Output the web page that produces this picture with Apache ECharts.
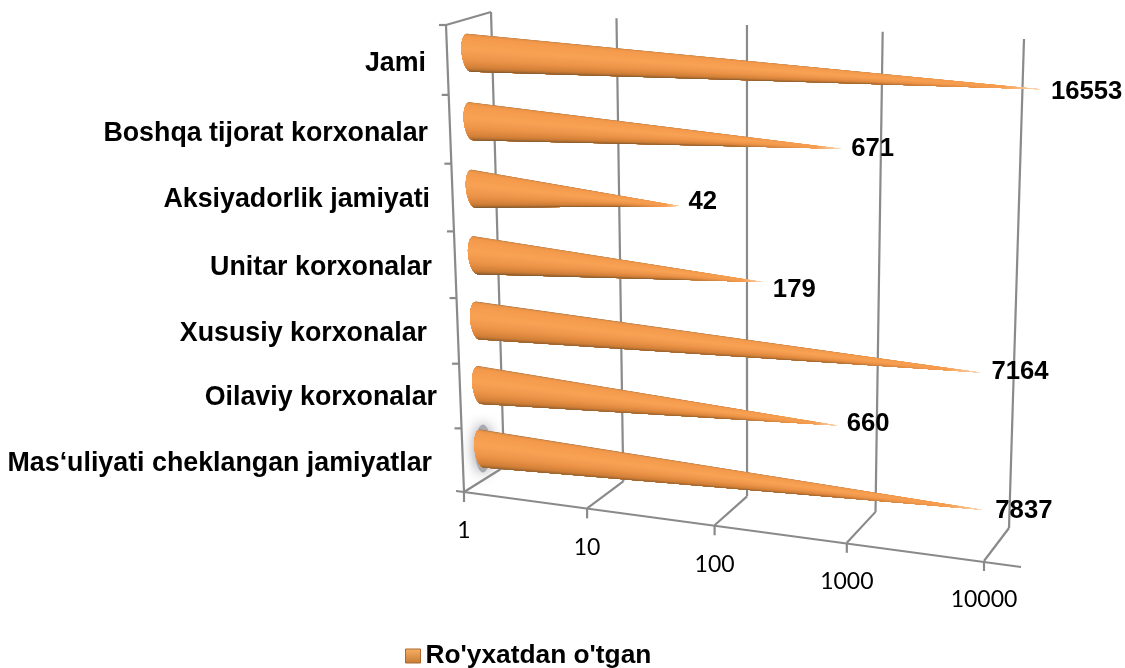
<!DOCTYPE html>
<html>
<head>
<meta charset="utf-8">
<script src="https://cdn.jsdelivr.net/npm/echarts@6/dist/echarts.min.js"></script>
<style>
  html, body { margin: 0; padding: 0; background: #fff; }
  #chart { width: 1125px; height: 668px; }
</style>
</head>
<body>
<div id="chart"></div>
<script>
// bottom to top, same order as the value axis of the original
const categories = [
  "Mas\u2018uliyati cheklangan jamiyatlar",
  "Oilaviy korxonalar",
  "Xususiy korxonalar",
  "Unitar korxonalar",
  "Aksiyadorlik jamiyati",
  "Boshqa tijorat korxonalar",
  "Jami"
];
const registered = [7837, 660, 7164, 179, 42, 671, 16553];
const tickValues = [1, 10, 100, 1000, 10000];
const seriesName = "Ro'yxatdan o'tgan";

// label nudges, the original labels were not placed evenly
const catLabelRight = [432, 437, 427, 432, 430, 428, 426];
const catLabelDy = [15, 13, 13, 12, 11, 12, 11];
const valueLabelNudge = [[13, 1], [9, -2], [11, -1], [10, 8], [9, -4], [10, 0], [10, 3]];

// square -> quad perspective map
function makeQuad(p0, p1, p2, p3) {
  const dx1 = p1[0] - p2[0], dx2 = p3[0] - p2[0], sx = p0[0] - p1[0] + p2[0] - p3[0];
  const dy1 = p1[1] - p2[1], dy2 = p3[1] - p2[1], sy = p0[1] - p1[1] + p2[1] - p3[1];
  const den = dx1 * dy2 - dx2 * dy1;
  const g = (sx * dy2 - dx2 * sy) / den;
  const h = (dx1 * sy - sx * dy1) / den;
  const a = p1[0] - p0[0] + g * p1[0], b = p3[0] - p0[0] + h * p3[0];
  const d = p1[1] - p0[1] + g * p1[1], e = p3[1] - p0[1] + h * p3[1];
  return function (u, v) {
    const w = g * u + h * v + 1;
    return [(a * u + b * v + p0[0]) / w, (d * u + e * v + p0[1]) / w];
  };
}

const frontPlane = makeQuad([464, 492], [984, 561], [996, 61], [446, 25]);
const midPlane = makeQuad([483, 480], [996, 545], [1010, 50], [468, 18]);
const backPlane = makeQuad([504, 467], [1009, 528], [1024, 39], [491, 12]);

const lineStyle = { stroke: "#8a8a8a", lineWidth: 2.2, fill: null };

function gridFractions(params, api, value, cat) {
  const cs = params.coordSys;
  const p = api.coord([value, cat]);
  return [(p[0] - cs.x) / cs.width, (cs.y + cs.height - p[1]) / cs.height];
}

function seg(a, b, z) {
  return { type: "line", shape: { x1: a[0], y1: a[1], x2: b[0], y2: b[1] }, style: lineStyle, z2: z || 1 };
}

function renderFrame(params, api) {
  const u = gridFractions(params, api, api.value(0), 0)[0];
  const children = [];
  const front = frontPlane(u, 0);
  const back = backPlane(u, 0);
  const top = backPlane(u, 1);
  children.push(seg(back, top));
  children.push(seg(front, back));
  children.push(seg(front, [front[0], front[1] + 10]));
  children.push({
    type: "text",
    style: {
      x: front[0], y: front[1] + 39,
      text: String(api.value(0)),
      font: "23px Lato", fill: "#000",
      align: "center", verticalAlign: "middle"
    }
  });
  if (params.dataIndex === 0) {
    // walls and floor edge
    const fTop = frontPlane(0, 1);
    children.push(seg(front, fTop));
    children.push(seg(fTop, top));
    children.push(seg(front, [1021, 567]));
    children.push(seg(front, [front[0] - 8, front[1] - 1]));
    for (let i = 1; i <= categories.length; i++) {
      const t = frontPlane(0, i / categories.length);
      children.push(seg(t, [t[0] - 7, t[1]]));
    }
  }
  return { type: "group", children: children };
}

const shadeStops = [
  [0, "#7d5a38"], [0.05, "#d98a44"], [0.16, "#f2984a"], [0.42, "#f9a254"],
  [0.62, "#ec9347"], [0.8, "#cf7d35"], [0.93, "#95622f"], [1, "#5f4a33"]
];

function shade(t) {
  for (let i = 1; i < shadeStops.length; i++) {
    if (t <= shadeStops[i][0]) {
      const k = (t - shadeStops[i - 1][0]) / (shadeStops[i][0] - shadeStops[i - 1][0]);
      return echarts.color.lerp(k, [shadeStops[i - 1][1], shadeStops[i][1]]);
    }
  }
  return shadeStops[shadeStops.length - 1][1];
}

function renderCone(params, api) {
  const i = params.dataIndex;
  const value = api.value(0);
  const cat = api.value(1);
  const tipF = gridFractions(params, api, value, cat);
  const tip = midPlane(tipF[0], tipF[1]);
  const base = midPlane(0, tipF[1]);
  const children = [];
  const rx = 7.5, ry = 19;

  if (i === 0) {
    // smudge behind the first base
    children.push({
      type: "ellipse",
      shape: { cx: base[0] + 1, cy: base[1], rx: 8, ry: 24 },
      style: { fill: "#a9a9b0", shadowBlur: 14, shadowColor: "#8e8e98" },
      z2: 1
    });
  }

  // each piece runs from its angle down to the bottom edge, so no seams show
  const n = 36;
  const rim = [];
  for (let k = 0; k <= n; k++) {
    const a = -Math.PI / 2 + Math.PI * k / n;
    rim.push([base[0] - rx * Math.cos(a) + 0.1 * ry * Math.sin(a), base[1] + ry * Math.sin(a)]);
  }
  for (let k = 0; k < n; k++) {
    const c = shade((k + 0.5) / n);
    children.push({
      type: "polygon",
      shape: { points: rim.slice(k).concat([tip]) },
      style: {
        fill: {
          type: "linear", global: true,
          x: base[0], y: base[1], x2: tip[0], y2: tip[1],
          colorStops: [
            { offset: 0, color: c },
            { offset: 0.7, color: c },
            { offset: 0.93, color: "#f59c4e" },
            { offset: 1, color: "#fbd9b8" }
          ]
        }
      },
      z2: 2
    });
  }

  const nudge = valueLabelNudge[i];
  children.push({
    type: "text",
    style: {
      x: tip[0] + nudge[0], y: tip[1] + nudge[1],
      text: String(value),
      font: "bold 25.7px 'Liberation Sans'", fill: "#000",
      align: "left", verticalAlign: "middle"
    },
    z2: 5
  });
  children.push({
    type: "text",
    style: {
      x: catLabelRight[i], y: base[1] + catLabelDy[i],
      text: categories[cat],
      font: "bold 26.8px 'Liberation Sans'", fill: "#000",
      align: "right", verticalAlign: "middle"
    },
    z2: 5
  });
  return { type: "group", children: children };
}

const chart = echarts.init(document.getElementById("chart"), null, { renderer: "canvas" });

chart.setOption({
  animation: false,
  backgroundColor: "#fff",
  grid: { left: 100, right: 100, top: 20, bottom: 100 },
  xAxis: { type: "log", min: 1, max: 10000, show: false },
  yAxis: { type: "category", data: categories, show: false },
  legend: {
    left: 405,
    top: 643,
    padding: 0,
    icon: "rect",
    itemWidth: 15,
    itemHeight: 14,
    itemGap: 0,
    selectedMode: false,
    textStyle: { fontFamily: "Liberation Sans", fontWeight: "bold", fontSize: 26.3, color: "#000" },
    data: [{
      name: seriesName,
      itemStyle: {
        color: new echarts.graphic.LinearGradient(0, 0, 0, 1, [
          { offset: 0, color: "#f9b163" }, { offset: 1, color: "#c67a35" }
        ]),
        borderColor: "#a86a30", borderWidth: 1
      }
    }]
  },
  series: [
    {
      type: "custom",
      name: "axis",
      z: 1,
      silent: true,
      renderItem: renderFrame,
      encode: { x: 0 },
      data: tickValues.map(function (v) { return [v, 0]; })
    },
    {
      type: "custom",
      name: seriesName,
      z: 2,
      silent: true,
      itemStyle: { color: "#f69c4c" },
      renderItem: renderCone,
      encode: { x: 0, y: 1 },
      data: registered.map(function (v, idx) { return [v, idx]; })
    }
  ]
});
</script>
</body>
</html>
